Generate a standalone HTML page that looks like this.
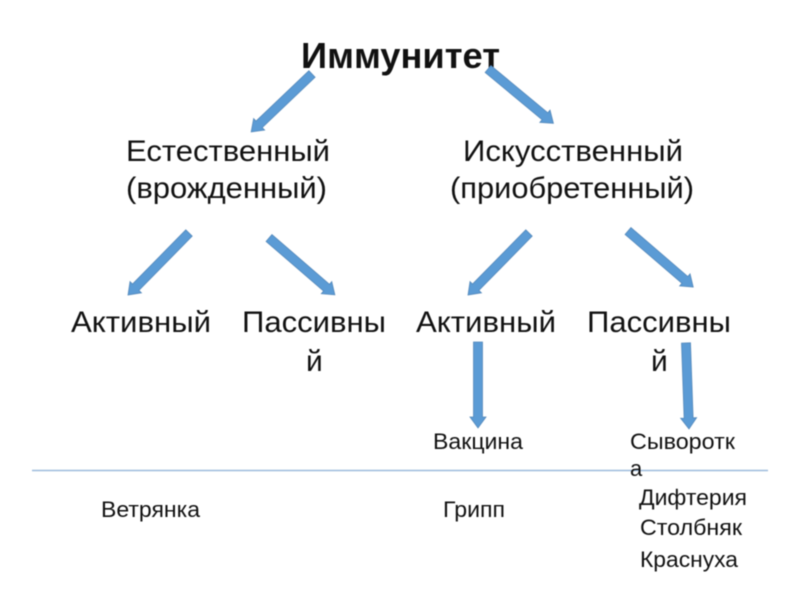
<!DOCTYPE html>
<html><head><meta charset="utf-8"><style>
html,body{margin:0;padding:0;background:#fff}
svg{display:block;filter:blur(0.4px)}
text{font-family:"Liberation Sans",sans-serif;fill:#111}
.a{fill:#5b9bd5;stroke:#5589bb;stroke-width:0.8}
</style></head><body>
<svg width="800" height="600" viewBox="0 0 800 600" xmlns="http://www.w3.org/2000/svg">
<rect width="800" height="600" fill="#fff"/>
<line x1="32" y1="470.5" x2="768" y2="470.5" stroke="#9dbbdc" stroke-width="1.5"/>
<text x="301" y="68" font-size="36" font-weight="bold" textLength="199" lengthAdjust="spacingAndGlyphs">Иммунитет</text>
<text x="126" y="161" font-size="30" textLength="204" lengthAdjust="spacingAndGlyphs">Естественный</text>
<text x="126" y="198" font-size="30" textLength="201" lengthAdjust="spacingAndGlyphs">(врожденный)</text>
<text x="463" y="161" font-size="30" textLength="220" lengthAdjust="spacingAndGlyphs">Искусственный</text>
<text x="450" y="198" font-size="30" textLength="244" lengthAdjust="spacingAndGlyphs">(приобретенный)</text>
<text x="71" y="332" font-size="30" textLength="140" lengthAdjust="spacingAndGlyphs">Активный</text>
<text x="242" y="332" font-size="30" textLength="144" lengthAdjust="spacingAndGlyphs">Пассивны</text>
<text x="306" y="371" font-size="30">й</text>
<text x="416" y="332" font-size="30" textLength="140" lengthAdjust="spacingAndGlyphs">Активный</text>
<text x="587" y="332" font-size="30" textLength="144" lengthAdjust="spacingAndGlyphs">Пассивны</text>
<text x="651" y="371" font-size="30">й</text>
<text x="433" y="449" font-size="22" textLength="90" lengthAdjust="spacingAndGlyphs">Вакцина</text>
<text x="630" y="449" font-size="22" textLength="105" lengthAdjust="spacingAndGlyphs">Сыворотк</text>
<text x="630" y="476" font-size="22">а</text>
<text x="101" y="517" font-size="22" textLength="99" lengthAdjust="spacingAndGlyphs">Ветрянка</text>
<text x="443" y="517" font-size="22" textLength="62" lengthAdjust="spacingAndGlyphs">Грипп</text>
<text x="639" y="505" font-size="22" textLength="108" lengthAdjust="spacingAndGlyphs">Дифтерия</text>
<text x="640" y="535" font-size="22" textLength="102" lengthAdjust="spacingAndGlyphs">Столбняк</text>
<text x="640" y="567" font-size="22" textLength="98" lengthAdjust="spacingAndGlyphs">Краснуха</text>
<g transform="translate(312,74) rotate(136.4)"><polygon class="a" points="0,-4.5 73,-4.5 73,-8 84,0 73,8 73,4.5 0,4.5"/></g>
<g transform="translate(488,69) rotate(39.7)"><polygon class="a" points="0,-4.5 74,-4.5 74,-8 85,0 74,8 74,4.5 0,4.5"/></g>
<g transform="translate(189,233) rotate(134.5)"><polygon class="a" points="0,-4.5 76,-4.5 76,-8 87,0 76,8 76,4.5 0,4.5"/></g>
<g transform="translate(269,238) rotate(40.8)"><polygon class="a" points="0,-4.5 76,-4.5 76,-8 87,0 76,8 76,4.5 0,4.5"/></g>
<g transform="translate(529,233) rotate(134.5)"><polygon class="a" points="0,-4.5 76,-4.5 76,-8 87,0 76,8 76,4.5 0,4.5"/></g>
<g transform="translate(628,231) rotate(40.7)"><polygon class="a" points="0,-4.5 75,-4.5 75,-8 86,0 75,8 75,4.5 0,4.5"/></g>
<g transform="translate(478,342) rotate(90)"><polygon class="a" points="0,-4.5 75,-4.5 75,-8 86,0 75,8 75,4.5 0,4.5"/></g>
<g transform="translate(686,343) rotate(88)"><polygon class="a" points="0,-4.5 75,-4.5 75,-8 86,0 75,8 75,4.5 0,4.5"/></g>
</svg>
</body></html>
